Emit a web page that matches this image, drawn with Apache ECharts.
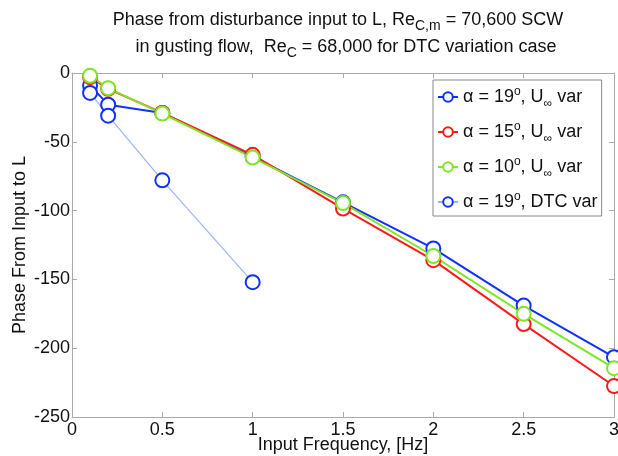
<!DOCTYPE html>
<html><head><meta charset="utf-8">
<script src="https://cdn.jsdelivr.net/npm/echarts@6/dist/echarts.min.js"></script>
<style>html,body{margin:0;padding:0;background:#fff}#c{width:618px;height:456px}</style>
</head><body><div id="c"></div>
<script>
var freqU = [0.1, 0.2, 0.5, 1, 1.5, 2, 2.5, 3];
var phase19 = [-9, -23, -29, -61, -94, -127.5, -169, -206.5];
var phase15 = [-3, -11.5, -29, -59.5, -98.5, -136, -182.5, -227.5];
var phase10 = [-2, -11, -29.5, -61.5, -94.5, -133, -175, -214.5];
var freqDTC = [0.1, 0.2, 0.5, 1];
var phaseDTC = [-14.5, -31, -78, -152];
var xTicks = [0, 0.5, 1, 1.5, 2, 2.5, 3];
var yTicks = [0, -50, -100, -150, -200, -250];
var seriesNames = ['a19U', 'a15U', 'a10U', 'a19DTC'];

function pairs(xs, ys) { return xs.map(function (x, i) { return [x, ys[i]]; }); }

var FONT = 'Liberation Sans';
var FS = 18;
var chart = echarts.init(document.getElementById('c'));
var legendText = {
  a19U: 'α = 19{sup|o}, U{sub|∞} var',
  a15U: 'α = 15{sup|o}, U{sub|∞} var',
  a10U: 'α = 10{sup|o}, U{sub|∞} var',
  a19DTC: 'α = 19{sup|o}, DTC var'
};
var tickStyle = { show: true, inside: true, length: 5, lineStyle: { color: '#aaa' } };
var lineStyleAx = { show: true, onZero: false, lineStyle: { color: '#aaa', width: 1 } };
function mk(name, xs, ys, color, lineColor, lw) {
  return {
    name: name, type: 'line', data: pairs(xs, ys),
    symbol: 'emptyCircle', symbolSize: 14, showSymbol: true,
    itemStyle: { color: color, borderColor: color, borderWidth: 1.8 },
    lineStyle: { color: lineColor, width: lw },
    emphasis: { disabled: true }, animation: false
  };
}
var subRich = { fontSize: 14, fontFamily: FONT, padding: [12, 0, 0, 0], fill: '#111' };
chart.setOption({
  animation: false,
  textStyle: { fontFamily: FONT },
  grid: { left: 72, top: 73, right: 4, bottom: 39, containLabel: false, outerBoundsMode: 'none' },
  graphic: [
    { type: 'text', x: 338, y: 7, style: {
      text: 'Phase from disturbance input to L, Re{sub|C,m} = 70,600 SCW',
      font: FS + 'px ' + FONT, fill: '#111', align: 'center',
      rich: { sub: subRich } } },
    { type: 'text', x: 346, y: 34, style: {
      text: 'in gusting flow,  Re{sub|C} = 68,000 for DTC variation case',
      font: FS + 'px ' + FONT, fill: '#111', align: 'center',
      rich: { sub: subRich } } }
  ],
  legend: {
    orient: 'vertical', left: 433, top: 80,
    data: seriesNames,
    itemWidth: 20, itemHeight: 12, itemGap: 11,
    padding: [6, 4, 5, 4],
    backgroundColor: '#fff', borderColor: '#888', borderWidth: 1, borderRadius: 0,
    formatter: function (n) { return legendText[n]; },
    textStyle: { fontFamily: FONT, fontSize: FS, color: '#111',
      rich: { sup: { fontSize: 12, fontFamily: FONT, padding: [0, 0, 10, 0], color: '#111' },
              sub: { fontSize: 12, fontFamily: FONT, padding: [14, 0, 0, 0], color: '#111' } } }
  },
  xAxis: [
    { type: 'value', position: 'bottom', min: 0, max: 3, interval: 0.5,
      axisLine: lineStyleAx, axisTick: tickStyle, splitLine: { show: false },
      name: 'Input Frequency, [Hz]', nameLocation: 'middle', nameGap: 19, nameMoveOverlap: false,
      nameTextStyle: { fontFamily: FONT, fontSize: FS, color: '#111' },
      axisLabel: { fontFamily: FONT, fontSize: FS, color: '#111', margin: 4,
        formatter: function (v) { return xTicks.indexOf(v) >= 0 ? String(v) : ''; } } },
    { type: 'value', position: 'top', min: 0, max: 3, interval: 0.5,
      axisLine: lineStyleAx, axisTick: tickStyle, splitLine: { show: false }, axisLabel: { show: false } }
  ],
  yAxis: [
    { type: 'value', min: -250, max: 0, interval: 50, position: 'left',
      axisLine: lineStyleAx, axisTick: tickStyle, splitLine: { show: false },
      name: 'Phase From Input to L', nameLocation: 'middle', nameGap: 43, nameRotate: 90, nameMoveOverlap: false,
      nameTextStyle: { fontFamily: FONT, fontSize: FS, color: '#111' },
      axisLabel: { fontFamily: FONT, fontSize: FS, color: '#111', margin: 2,
        formatter: function (v) { return yTicks.indexOf(v) >= 0 ? String(v) : ''; } } },
    { type: 'value', min: -250, max: 0, interval: 50, position: 'right',
      axisLine: lineStyleAx, axisTick: tickStyle, splitLine: { show: false }, axisLabel: { show: false } }
  ],
  series: [
    mk('a19U', freqU, phase19, '#1030ff', '#1030ff', 2),
    mk('a15U', freqU, phase15, '#ff1a1a', '#ff1a1a', 2),
    mk('a10U', freqU, phase10, '#7ee622', '#7ee622', 2),
    mk('a19DTC', freqDTC, phaseDTC, '#1030ff', '#9fb4ff', 1.2)
  ]
});
</script></body></html>
